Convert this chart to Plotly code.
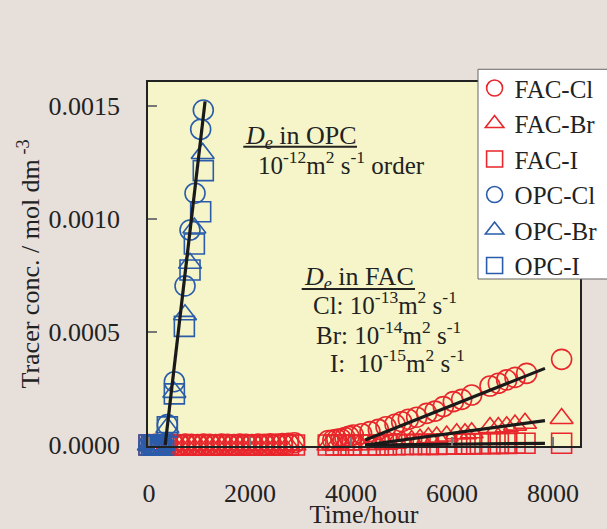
import plotly.graph_objects as go

# ---------------- data ----------------
fac_t_early = [0, 120, 240, 360, 480, 600, 720, 840, 960, 1080, 1200, 1320, 1440,
               1560, 1680, 1800, 1920, 2040, 2160, 2280, 2400, 2520, 2640, 2760, 2880]
fac_cl_early = [0.000002, 0.000003, 0.000002, 0.000004, 0.000003, 0.000002, 0.000004, 0.000003,
                0.000002, 0.000004, 0.000003, 0.000002, 0.000004, 0.000003, 0.000002, 0.000004,
                0.000003, 0.000002, 0.000004, 0.000003, 0.000005, 0.000004, 0.000006, 0.000008, 0.000010]
fac_br_early = [0.0] * 25
fac_i_early = [0.0] * 25

fac_cl_t = [3550, 3640, 3720, 3800, 3880, 3960, 4046, 4210, 4376, 4541, 4693, 4871, 5003,
            5135, 5300, 5498, 5663, 5828, 6026, 6191, 6389, 6752, 6917, 7082, 7247, 7478, 8170]
fac_cl_v = [0.000020, 0.000022, 0.000025, 0.000028, 0.000033, 0.000038, 0.000044, 0.000050,
            0.000059, 0.000069, 0.000081, 0.000092, 0.000103, 0.000114, 0.000123, 0.000140,
            0.000150, 0.000170, 0.000192, 0.000202, 0.000221, 0.000261, 0.000273, 0.000288,
            0.000299, 0.000317, 0.000379]

fac_br_t = [3550, 3700, 3850, 4000, 4150, 4376, 4540, 4700, 4870, 5035, 5200, 5366, 5531,
            5696, 5894, 6092, 6257, 6389, 6752, 6917, 7082, 7247, 7445, 8170]
fac_br_v = [0.0, 0.0, 0.0, 0.0, 0.000001, 0.000002, 0.000003, 0.000004, 0.000008, 0.000015,
            0.000020, 0.000025, 0.000032, 0.000035, 0.000040, 0.000050, 0.000050, 0.000054,
            0.000077, 0.000077, 0.000081, 0.000088, 0.000096, 0.000117]

fac_i_t = [3550, 3700, 3850, 4000, 4150, 4376, 4540, 4700, 4870, 5035, 5200, 5366, 5531,
           5696, 5894, 6092, 6257, 6389, 6560, 6752, 6917, 7082, 7247, 7445, 8170]
fac_i_v = [0.0, 0.0, 0.0, 0.0, 0.0, 0.0, 0.0, 0.000001, 0.000001, 0.000002, 0.000002,
           0.000003, 0.000003, 0.000003, 0.000004, 0.000004, 0.000005, 0.000005, 0.000006,
           0.000006, 0.000007, 0.000007, 0.000008, 0.000008, 0.000008]

opc_t_early = [0, 48, 96, 144, 192, 240, 288]
opc_zero = [0.0] * 7
opc_cl_t = [363, 502, 713, 812, 911, 1023, 1075]
opc_cl_v = [0.000090, 0.000280, 0.000704, 0.000951, 0.001114, 0.001397, 0.001482]
opc_br_t = [363, 502, 713, 812, 898, 1063]
opc_br_v = [0.000077, 0.000233, 0.000576, 0.000804, 0.000960, 0.001290]
opc_i_t = [363, 502, 700, 812, 898, 1023, 1075]
opc_i_v = [0.000080, 0.000226, 0.000525, 0.000774, 0.000889, 0.001032, 0.001214]

# fitted lines
opc_fit_t = [320, 1110]
opc_fit_v = [0.0, 0.00152]
fac_fit_t = [4280, 7840]
fac_cl_fit_v = [0.000022, 0.000339]
fac_br_fit_v = [0.0, 0.000108]
fac_i_fit_v = [0.0, 0.0000075]

x_ticks = [0, 2000, 4000, 6000, 8000]
y_ticks = [0.0, 0.0005, 0.0010, 0.0015]

# ---------------- styling ----------------
RED = "#E8262B"
BLUE = "#2A5CAA"
FONT = "Liberation Serif"
TXT = "#222222"

fig = go.Figure()

def add_series(name, t, v, symbol, color):
    fig.add_trace(go.Scatter(
        x=t, y=v, mode="markers", name=name, cliponaxis=False,
        marker=dict(symbol=symbol, size=20, color=color,
                    line=dict(color=color, width=1.6))))

add_series("FAC-Cl", fac_t_early + fac_cl_t, fac_cl_early + fac_cl_v, "circle-open", RED)
add_series("FAC-Br", fac_t_early + fac_br_t, fac_br_early + fac_br_v, "triangle-up-open", RED)
add_series("FAC-I", fac_t_early + fac_i_t, fac_i_early + fac_i_v, "square-open", RED)
add_series("OPC-Cl", opc_t_early + opc_cl_t, opc_zero + opc_cl_v, "circle-open", BLUE)
add_series("OPC-Br", opc_t_early + opc_br_t, opc_zero + opc_br_v, "triangle-up-open", BLUE)
add_series("OPC-I", opc_t_early + opc_i_t, opc_zero + opc_i_v, "square-open", BLUE)

for ft, fv in [(opc_fit_t, opc_fit_v), (fac_fit_t, fac_cl_fit_v),
               (fac_fit_t, fac_br_fit_v), (fac_fit_t, fac_i_fit_v)]:
    fig.add_trace(go.Scatter(x=ft, y=fv, mode="lines", showlegend=False, cliponaxis=False,
                             line=dict(color="#1a1a1a", width=3.2)))

ann_font = dict(family=FONT, color=TXT)
annotations = [
    dict(x=1867, y=0.001363, text="<i>D</i><sub><i>e</i></sub> in OPC", font=dict(size=26, **ann_font)),
    dict(x=2118, y=0.001248, text="10<sup>-12</sup>m<sup>2</sup> s<sup>-1</sup> order",
         font=dict(size=25, **ann_font)),
    dict(x=3023, y=0.000739, text="<i>D</i><sub><i>e</i></sub> in FAC", font=dict(size=26, **ann_font)),
    dict(x=3207, y=0.000628, text="Cl: 10<sup>-13</sup>m<sup>2</sup> s<sup>-1</sup>",
         font=dict(size=25, **ann_font)),
    dict(x=3270, y=0.000496, text="Br: 10<sup>-14</sup>m<sup>2</sup> s<sup>-1</sup>",
         font=dict(size=25, **ann_font)),
    dict(x=3544, y=0.000371, text="I:\u00a0\u00a010<sup>-15</sup>m<sup>2</sup> s<sup>-1</sup>",
         font=dict(size=25, **ann_font)),
]
for a in annotations:
    a.update(xref="x", yref="y", xanchor="left", yanchor="middle", showarrow=False)

shapes = [
    dict(type="line", xref="x", yref="y", x0=1867, x1=4118, y0=0.00132, y1=0.00132,
         line=dict(color=TXT, width=2)),
    dict(type="line", xref="x", yref="y", x0=3023, x1=5267, y0=0.00069, y1=0.00069,
         line=dict(color=TXT, width=2)),
    # legend box
    dict(type="rect", xref="paper", yref="paper", x0=0.7639, x1=1.12, y0=0.4588, y1=1.0349,
         fillcolor="#FFFFFF", line=dict(color="#666666", width=1), layer="above"),
]

fig.update_layout(
    width=607, height=529,
    margin=dict(l=148, r=27, t=82, b=83, autoexpand=False),
    paper_bgcolor="#E7DFDA",
    plot_bgcolor="#F5F5C9",
    font=dict(family=FONT, size=26, color=TXT),
    annotations=annotations,
    shapes=shapes,
    legend=dict(x=0.756, y=1.0459, xanchor="left", yanchor="top",
                bgcolor="rgba(0,0,0,0)", borderwidth=0,
                font=dict(family=FONT, size=25, color=TXT), tracegroupgap=0),
    xaxis=dict(range=[-20, 8534], tickvals=x_ticks, ticks="inside", ticklen=9,
               tickcolor="#777777", tickwidth=1.5, showgrid=False, zeroline=False,
               showline=True, mirror=True, linecolor="#222222", linewidth=1.5,
               ticklabelstandoff=23,
               title=dict(text="Time/hour", standoff=0, font=dict(size=26))),
    yaxis=dict(range=[-0.0000044, 0.001606], tickvals=y_ticks, tickformat=".4f",
               ticks="inside", ticklen=9, tickcolor="#777777", tickwidth=1.5,
               showgrid=False, zeroline=False, showline=True, mirror=True,
               linecolor="#222222", linewidth=1.5, ticklabelstandoff=21,
               title=dict(text="Tracer conc. / mol dm<sup> -3</sup>", standoff=1,
                          font=dict(size=26))),
)

fig.write_html("out.html", config={"displayModeBar": False},
               post_script="document.body.style.margin='0';document.body.style.padding='0';")
